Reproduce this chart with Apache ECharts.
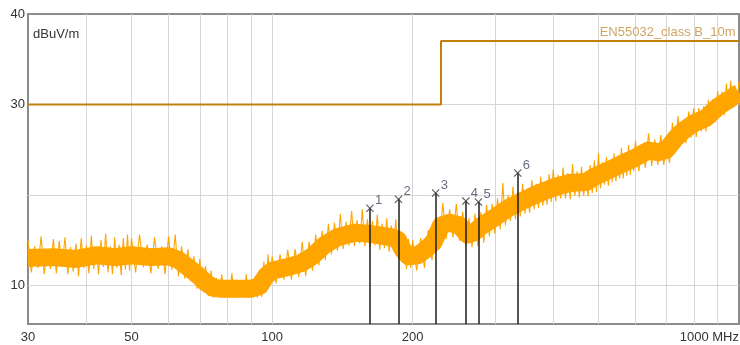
<!DOCTYPE html>
<html><head><meta charset="utf-8">
<script src="https://cdn.jsdelivr.net/npm/echarts@6/dist/echarts.min.js"></script>
<style>html,body{margin:0;padding:0;background:#fff}#c{width:740px;height:345px}</style>
</head><body><div id="c"></div>
<script>
// ---- data ----
const traceFreqs = [
30,30.5,31,31.5,32,32.5,33,33.5,34,34.5,35,35.5,36,36.5,37,37.5,38,38.5,39,39.5,
40,40.5,41,41.5,42,42.5,43,43.5,44,44.5,45,45.5,46,46.5,47,47.5,48,48.5,49,49.5,
50,51,52,53,54,55,56,57,58,59,60,61,62,63,64,65,66,67,68,69,
70,71,72,73,74,75,76,77,78,79,80,81,82,83,84,85,86,87,88,89,
90,91,92,93,94,95,96,97,98,99,
100,102,104,106,108,110,112,114,116,118,120,122,124,126,128,130,132,134,136,138,
140,142,144,146,148,150,152,154,156,158,160,162,164,166,168,170,172,174,176,178,
180,182,184,186,188,190,192,194,196,198,
200,204,208,212,216,220,224,228,232,236,240,244,248,252,256,260,264,268,272,276,
280,284,288,292,296,300,304,308,312,316,320,324,328,332,336,340,344,348,352,356,
360,364,368,372,376,380,384,388,392,396,
400,405,410,415,420,425,430,435,440,445,450,455,460,465,470,475,480,485,490,495,
500,505,510,515,520,525,530,535,540,545,550,555,560,565,570,575,580,585,590,595,
600,610,620,630,640,650,660,670,680,690,700,710,720,730,740,750,760,770,780,790,
800,810,820,830,840,850,860,870,880,890,900,910,920,930,940,950,960,970,980,990,
1000];
const traceLevels = [
15.0,11.4,14.3,11.9,15.4,11.2,14.0,11.8,15.1,11.3,14.9,12.0,15.3,11.2,14.2,11.5,14.6,11.0,15.2,11.9,
14.4,11.3,15.5,11.8,14.1,11.2,15.0,12.0,15.7,11.4,14.3,11.2,15.3,11.9,14.5,11.1,15.2,11.7,15.6,11.6,
15.2,11.4,15.6,12.0,14.5,11.3,15.3,11.8,14.3,11.2,15.4,11.7,15.6,11.0,14.3,10.7,14.0,10.4,13.2,9.6,
12.9,9.4,12.1,8.8,11.6,8.6,10.8,8.6,11.2,8.6,10.4,8.6,11.3,8.6,10.6,8.6,10.3,8.6,11.2,8.6,
10.6,8.6,11.0,8.6,11.6,8.7,12.6,9.6,13.4,10.0,
13.2,10.2,13.4,10.6,13.9,10.6,14.0,10.9,14.8,11.0,14.8,11.6,15.6,12.2,16.0,12.8,16.8,13.4,16.9,13.8,
17.9,14.0,17.0,14.4,18.2,14.3,17.2,14.6,18.4,14.3,17.3,14.2,17.1,14.4,17.8,13.9,16.8,14.1,17.4,13.7,
16.6,13.8,17.3,13.5,15.9,12.5,14.8,11.8,15.1,11.9,
15.0,11.6,15.2,11.9,16.1,12.8,16.7,14.0,19.1,15.1,18.4,15.3,19.0,14.9,18.1,14.3,17.4,14.2,17.9,14.3,
18.1,14.7,18.9,15.4,19.0,15.7,19.6,16.2,21.3,16.6,20.0,17.1,20.9,17.3,20.3,17.6,21.2,17.9,20.7,18.0,
21.6,18.4,21.2,18.5,22.0,18.8,21.4,18.9,22.3,19.2,
22.8,19.3,22.2,19.6,23.0,19.6,22.4,19.5,23.4,19.9,22.6,19.7,23.1,19.9,22.3,19.8,23.3,20.2,23.8,20.3,
24.6,20.7,23.6,21.1,24.2,21.0,23.6,21.4,24.6,21.5,24.0,21.8,25.2,21.8,24.5,22.1,25.5,22.2,24.8,22.6,
26.0,22.6,25.6,23.0,26.8,23.2,26.1,23.3,26.6,23.3,25.7,23.5,28.0,24.6,28.7,25.5,28.3,25.7,29.2,26.3,
29.6,26.4,29.6,27.0,29.8,27.0,30.5,27.8,30.6,28.0,31.5,28.6,31.4,28.8,32.3,29.4,32.6,29.6,32.1,30.1,
32.5];
// band centre of the noisy trace
const coreFreqs = [30,34,38,42,46,50,55,60,63,66,69,72,75,78,90,94,97,100,108,115,122,130,138,150,160,170,180,186,190,196,205,214,222,230,240,252,262,270,280,300,320,340,370,400,434,470,490,520,560,600,640,670,700,730,760,800,850,900,950,1000];
const coreLevels = [13.0,13.1,12.9,13.3,13.1,13.3,13.1,13.2,12.8,12.0,11.2,10.3,9.7,9.6,9.6,9.9,11.0,11.6,12.0,12.4,13.2,14.5,15.3,15.8,15.7,15.5,15.3,15.0,14.0,13.2,13.3,14.0,14.8,16.6,16.9,16.6,15.6,15.8,16.5,17.5,18.5,19.2,20.1,20.8,21.3,21.4,22.0,22.6,23.4,24.1,24.9,24.7,25.0,26.2,27.1,27.9,28.5,29.7,30.5,31.3];
const limitFreqs = [30, 230, 230, 1000];
const limitLevels = [30, 30, 37, 37];
const limitName = 'EN55032_class B_10m';
const limitLabelAt = 503;
const markerFreqs = [162, 186.5, 224, 260, 276.6, 335.8];
const markerLevels = [18.5, 19.5, 20.2, 19.3, 19.2, 22.4];
const markerNames = ['1','2','3','4','5','6'];
const xGridValues = [40,50,60,70,80,90,100,200,300,400,500,600,700,800,900];
const xTickValues = [30, 50, 100, 200, 1000];
const xTickTexts = ['30', '50', '100', '200', '1000 MHz'];
const yGridValues = [10, 20, 30];
const yTickValues = [10, 30, 40];
const unitLabel = 'dBuV/m';
const xMin = 30, xMax = 1000, yMin = 5.7, yMax = 40;

// ---- chart ----
const FONT = 'Arial, "Liberation Sans", sans-serif';
const zip = (a, b) => a.map((v, i) => [v, b[i]]);
const gridLine = {color: '#d6d6d6', width: 1, type: 'solid'};
const hidden = {color: 'rgba(0,0,0,0)', width: 0};

const gridMarks = [];
xGridValues.forEach(v => gridMarks.push({xAxis: v, lineStyle: gridLine, label: {show: false}}));
yGridValues.forEach(v => gridMarks.push({yAxis: v, lineStyle: gridLine, label: {show: false}}));
xTickValues.forEach((v, i) => gridMarks.push({xAxis: v, lineStyle: hidden,
  label: {show: true, position: 'start', formatter: xTickTexts[i], distance: 7,
    align: i === xTickValues.length - 1 ? 'right' : 'center', color: '#333', fontSize: 13, fontFamily: FONT}}));
yTickValues.forEach(v => gridMarks.push({yAxis: v, lineStyle: hidden,
  label: {show: true, position: 'start', formatter: String(v), distance: 3, color: '#333', fontSize: 13, fontFamily: FONT}}));

const markerLines = markerFreqs.map((f, i) => [{coord: [f, markerLevels[i]]}, {coord: [f, yMin]}]);

const chart = echarts.init(document.getElementById('c'), null, {renderer: 'canvas'});
chart.setOption({
  animation: false,
  backgroundColor: '#fff',
  grid: {left: 28, right: 1, top: 14, bottom: 21, show: true, borderColor: '#8c8c8c', borderWidth: 2, backgroundColor: 'transparent'},
  xAxis: {type: 'log', logBase: 10, min: xMin, max: xMax,
    axisLabel: {show: false}, axisTick: {show: false}, axisLine: {show: false}, splitLine: {show: false}, minorSplitLine: {show: false}},
  yAxis: {type: 'value', min: yMin, max: yMax,
    name: unitLabel, nameLocation: 'end', nameGap: -27,
    nameTextStyle: {color: '#333', fontSize: 13, fontFamily: FONT, align: 'left', padding: [0, 0, 0, 5]},
    axisLabel: {show: false}, axisTick: {show: false}, axisLine: {show: false}, splitLine: {show: false}},
  series: [
    {type: 'scatter', data: [], z: 1, silent: true,
      markLine: {z: 1, silent: true, symbol: ['none', 'none'], animation: false, precision: 4, data: gridMarks}},
    {type: 'line', data: zip(coreFreqs, coreLevels), showSymbol: false, z: 2, silent: true,
      lineStyle: {color: '#ffa500', width: 18, join: 'round', cap: 'butt'}},
    {type: 'line', data: zip(traceFreqs, traceLevels), showSymbol: false, z: 3, silent: true,
      lineStyle: {color: '#ffa500', width: 1.1}},
    {type: 'line', data: zip(limitFreqs, limitLevels), showSymbol: false, z: 4, silent: true,
      lineStyle: {color: '#c0800c', width: 2}},
    {type: 'scatter', data: [[limitLabelAt, limitLevels[3]]], symbolSize: 0, z: 4, silent: true,
      label: {show: true, position: 'top', align: 'left', distance: 2, formatter: limitName,
        color: '#c48f38', fontSize: 13, fontFamily: FONT}},
    {type: 'scatter', data: zip(markerFreqs, markerLevels).map((d, i) => ({value: d, name: markerNames[i]})),
      z: 7, silent: true, symbolSize: 8,
      symbol: 'path://M1,0 L5,4 L9,0 L10,1 L6,5 L10,9 L9,10 L5,6 L1,10 L0,9 L4,5 L0,1 Z',
      itemStyle: {color: '#333'},
      label: {show: true, position: 'right', distance: 1, offset: [0, -8], formatter: p => p.name,
        color: '#3c4860', fontSize: 13, fontFamily: FONT},
      markLine: {z: 6, silent: true, symbol: ['none', 'none'], animation: false, label: {show: false},
        lineStyle: {color: '#1e1e1e', width: 1.5, type: 'solid'}, data: markerLines}}
  ]
});
</script>
</body></html>
